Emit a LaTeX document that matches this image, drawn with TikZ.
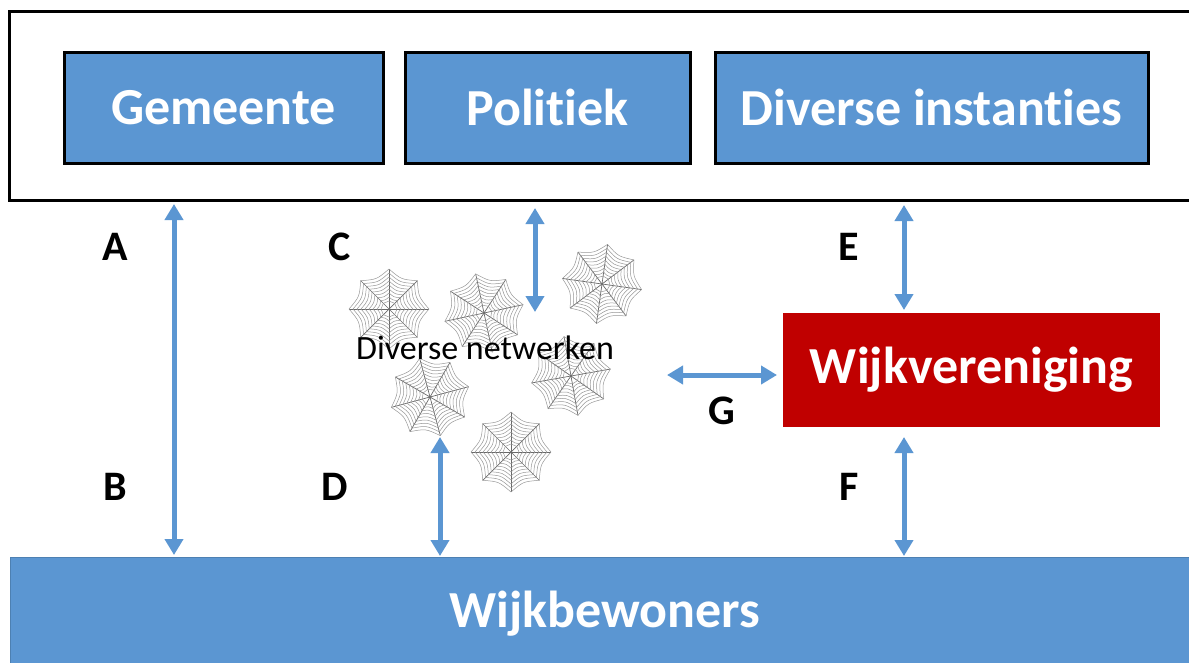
\documentclass[tikz,border=0pt]{standalone}
\usepackage{fontspec}
\setmainfont{Carlito}[Ligatures=NoCommon, RawFeature={-liga;-clig;-calt}]
\usetikzlibrary{arrows.meta}
\definecolor{boxblue}{RGB}{91,150,210}
\definecolor{boxred}{RGB}{192,0,0}
\definecolor{spokegray}{RGB}{105,105,105}
\definecolor{ringgray}{RGB}{150,150,150}
\tikzset{
    web/.pic={
        \foreach \k in {0,45,...,315}
            \draw[spokegray, line width=0.7pt] (0,0) -- (\k:40);
        \foreach \r in {8,12,...,40}
            \foreach \k in {0,45,...,315}
                \draw[ringgray, line width=0.5pt] (\k:\r) .. controls ({\k+22.5}:{0.8*\r}) .. ({\k+45}:\r);
    },
    link/.style={boxblue, line width=5pt, {Triangle[width=18pt,length=16pt]}-{Triangle[width=18pt,length=16pt]}}
}

\begin{document}
\begin{tikzpicture}[x=1pt,y=-1pt]
        \useasboundingbox (0,0) rectangle (1189,662);
        \clip (0,0) rectangle (1189,662);

        \node (frame) [draw=black, line width=3pt, minimum width=1201pt, minimum height=189pt, inner sep=0pt, outer sep=0pt] at (609.5,105.5) {};

        \begin{scope}[every node/.style={rectangle,draw=black,line width=3pt,fill=boxblue,text=white,inner sep=0pt,outer sep=0pt,minimum height=111pt,font=\bfseries\fontsize{52}{60}\selectfont}]
            \node (gem) [minimum width=319pt] at (223.5,107.5) {Gemeente};
            \node (pol) [minimum width=285pt] at (547.5,107.5) {Politiek};
            \node (inst) [minimum width=433pt] at (931.5,107.5) {Diverse instanties};
            \node (wijk) [draw=none, fill=boxred, minimum width=377pt, minimum height=114pt] at (971.5,370) {Wijkvereniging};
            \node (bew) [draw=boxblue!85!black, line width=0.8pt, minimum width=1190pt, minimum height=113pt] at (605,613.5) {Wijkbewoners};
        \end{scope}

        % netwerken
        \pic at (389,309) {web};
        \pic[rotate=12] at (484,313) {web};
        \pic[rotate=-8] at (602,284) {web};
        \pic[rotate=10] at (571,376) {web};
        \pic[rotate=15] at (430,397) {web};
        \pic at (511,452) {web};
        \node (netw) [font=\fontsize{34}{40}\selectfont] at (485,348) {Diverse netwerken};

        \begin{scope}[every node/.style={font=\bfseries\fontsize{42}{48}\selectfont}]
            \node (lA) at (115,247) {A};
            \node (lB) at (115,487) {B};
            \node (lC) at (340,247) {C};
            \node (lD) at (335,487) {D};
            \node (lE) at (849,247) {E};
            \node (lF) at (849,487) {F};
            \node (lG) at (722,411) {G};
        \end{scope}

        \coordinate (colA) at (174,0);
        \coordinate (colD) at (440,0);
        \coordinate (colC) at (535,0);
        \coordinate (colE) at (904,0);
        \coordinate (cEnd) at (535,312);
        \coordinate (dTop) at (440,437);
        \coordinate (gEnd) at (667,375);

        \draw[link, shorten <=4pt, shorten >=2pt] (frame.south -| colA) -- (bew.north -| colA);
        \draw[link, shorten <=8pt] (frame.south -| colC) -- (cEnd);
        \draw[link, shorten >=1pt] (dTop) -- (bew.north -| colD);
        \draw[link, shorten <=5pt, shorten >=3pt] (frame.south -| colE) -- (wijk.north -| colE);
        \draw[link, shorten <=10pt, shorten >=1pt] (wijk.south -| colE) -- (bew.north -| colE);
        \draw[link, shorten >=6pt] (gEnd) -- (wijk.west |- gEnd);
    \end{tikzpicture}
\end{document}
